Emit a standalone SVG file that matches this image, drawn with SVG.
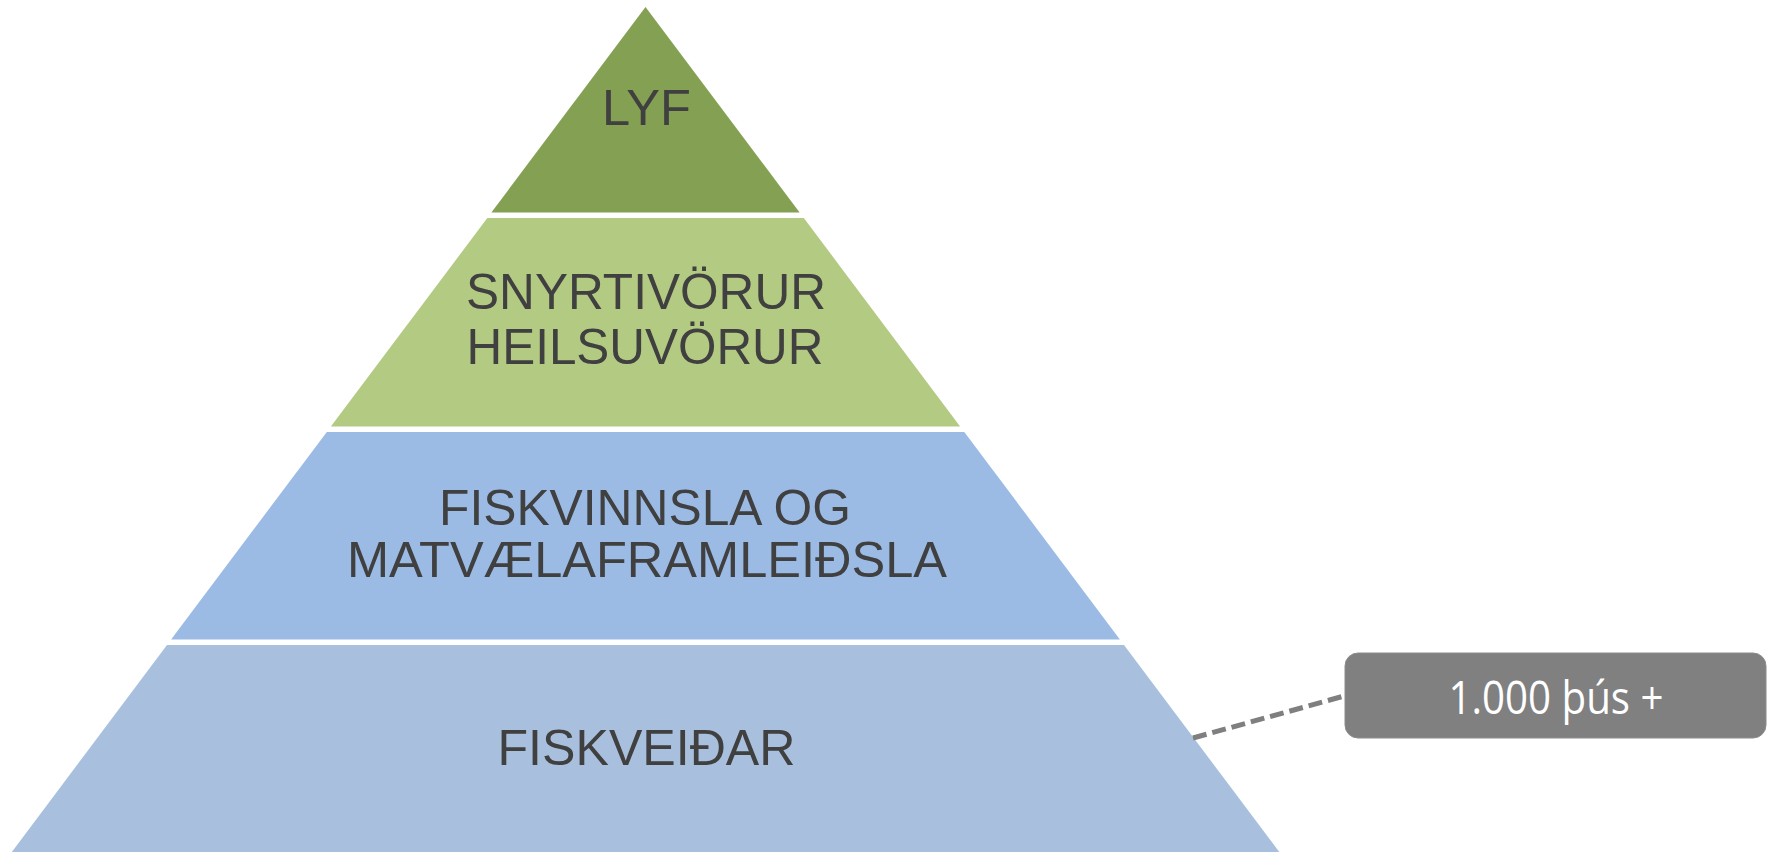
<svg xmlns="http://www.w3.org/2000/svg" width="1773" height="852" viewBox="0 0 1773 852">
<style>
.lbl{font-family:"Liberation Sans",Arial,sans-serif;font-size:50px;fill:#404040;text-anchor:middle}
.val{font-family:"Open Sans","Liberation Sans",sans-serif;font-size:46px;fill:#ffffff;text-anchor:middle}
</style>
<rect width="1773" height="852" fill="#ffffff"/>
<g id="tier-lyf">
<polygon points="645.5,7 799.6,212.5 491.4,212.5" fill="#84A052"/>
<text class="lbl" x="646.5" y="124.5" textLength="89" lengthAdjust="spacingAndGlyphs">LYF</text>
</g>
<g id="tier-snyrtivorur">
<polygon points="487.3,218 803.8,218 960.1,426.5 330.9,426.5" fill="#B3CA82"/>
<text class="lbl" x="646" y="308.5" textLength="360" lengthAdjust="spacingAndGlyphs">SNYRTIVÖRUR</text>
<text class="lbl" x="645" y="364" textLength="357" lengthAdjust="spacingAndGlyphs">HEILSUVÖRUR</text>
</g>
<g id="tier-fiskvinnsla">
<polygon points="326.8,432 964.3,432 1119.9,639.5 171.1,639.5" fill="#9BBBE5"/>
<text class="lbl" x="645" y="524.5" textLength="412" lengthAdjust="spacingAndGlyphs">FISKVINNSLA OG</text>
<text class="lbl" x="647" y="577" textLength="600" lengthAdjust="spacingAndGlyphs">MATVÆLAFRAMLEIÐSLA</text>
</g>
<g id="tier-fiskveidar">
<polygon points="167,645 1124,645 1279.3,852 11.8,852" fill="#A8C0DE"/>
<text class="lbl" x="646.5" y="765" textLength="298" lengthAdjust="spacingAndGlyphs">FISKVEIÐAR</text>
</g>
<g id="connectors">
<line x1="1193" y1="738" x2="1346" y2="695.5" stroke="#7F7F7F" stroke-width="5" stroke-dasharray="14 6"/>
</g>
<g id="callout">
<rect x="1345" y="653" width="421" height="85" rx="13" ry="13" fill="#808080" stroke="#8c8c8c" stroke-width="1"/>
<text class="val" x="1556" y="714" textLength="215" lengthAdjust="spacingAndGlyphs">1.000 þús +</text>
</g>
</svg>
